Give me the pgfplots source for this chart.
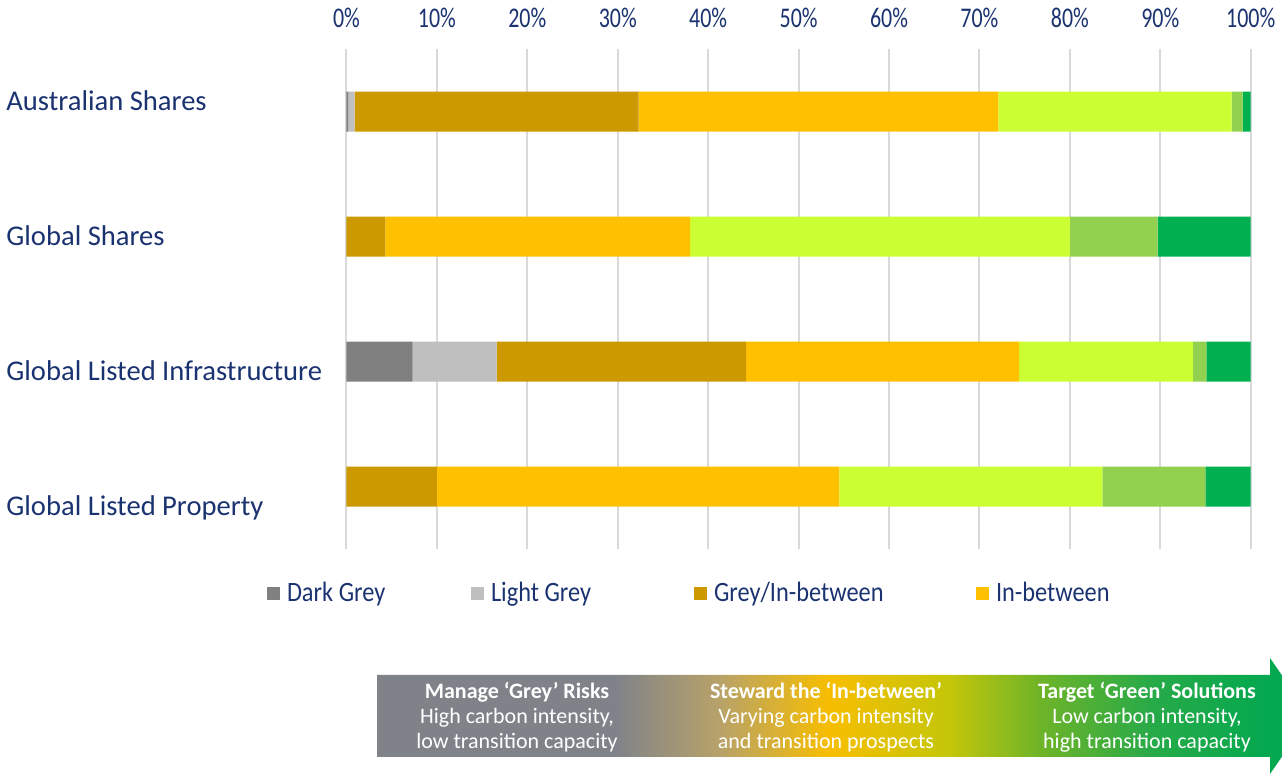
\documentclass[border=0pt]{standalone}
\usepackage{pgfplots}
\pgfplotsset{compat=1.18}
\usepackage{pgfplotstable}
\usepackage{fontspec}
\setmainfont{Carlito}
\newfontfamily\tickfont{Carlito}[FakeStretch=0.77]
\newfontfamily\legfont{Carlito}[FakeStretch=0.87]
\definecolor{navy}{HTML}{1A3370}
\definecolor{cDG}{HTML}{808080}
\definecolor{cLG}{HTML}{BFBFBF}
\definecolor{cGIB}{HTML}{CC9900}
\definecolor{cIB}{HTML}{FFC000}
\definecolor{cLGr}{HTML}{CCFF33}
\definecolor{cMGr}{HTML}{92D050}
\definecolor{cDGr}{HTML}{00B050}
\definecolor{gridc}{HTML}{D9D9D9}
\definecolor{ag1}{RGB}{127,131,137}
\definecolor{ag2}{RGB}{184,162,105}
\definecolor{ag3}{RGB}{247,190,0}
\definecolor{ag4}{RGB}{196,198,10}
\definecolor{ag5}{RGB}{110,180,40}
\definecolor{ag6}{RGB}{40,170,72}
\definecolor{ag7}{RGB}{0,168,80}
\pgfdeclarehorizontalshading{arrowshade}{100bp}{color(0bp)=(ag1); color(25bp)=(ag1); color(37.75bp)=(ag1); color(43.38bp)=(ag2); color(49.28bp)=(ag3); color(55.71bp)=(ag4); color(60.53bp)=(ag5); color(66.42bp)=(ag6); color(73.5bp)=(ag7); color(100bp)=(ag7)}

\pgfplotstableread{
cat dg lg gib ib lgr mgr dgr
0 0.2 0.7 31.4 39.8 25.8 1.2 0.9
1 0 0 4.3 33.7 42.0 9.7 10.3
2 7.3 9.3 27.6 30.2 19.2 1.5 4.9
3 0 0 10.0 44.5 29.1 11.4 5.0
}\datatable

\pgfplotsset{sqleg/.style={legend image code/.code={\path[##1, draw=none] (0pt,-3.25pt) rectangle (6.5pt,3.25pt);}}}

\begin{document}
\begin{tikzpicture}
\path[use as bounding box] (0pt,0pt) rectangle (641pt,-387pt);
\begin{axis}[
  at={(173.25pt,-24.5pt)}, anchor=north west,
  scale only axis, width=452.1pt, height=250pt,
  xbar stacked, bar width=20pt,
  xmin=0, xmax=100, ymin=-0.5, ymax=3.5, y dir=reverse,
  ytick={0,1,2,3},
  yticklabels={Australian Shares, Global Shares, Global Listed Infrastructure, Global Listed Property},
  xtick={0,10,...,100},
  xticklabels={0\%,10\%,20\%,30\%,40\%,50\%,60\%,70\%,80\%,90\%,100\%},
  xticklabel pos=upper,
  axis line style={draw=none},
  tick style={draw=none},
  major tick length=0pt,
  xmajorgrids, grid style={color=gridc, line width=1pt},
  xticklabel style={font=\tickfont\fontsize{14.25}{16}\selectfont, text=navy, anchor=base, inner sep=0pt, yshift=10.85pt},
  yticklabel style={font=\fontsize{14.3}{17}\selectfont, text=navy, anchor=base west, inner sep=0pt, xshift=-170.25pt, yshift={0.75pt-5pt*\ticknum}},
  legend style={at={(axis description cs:-0.0879,-0.089)}, anchor=west, draw=none, fill=none, inner sep=0pt, outer sep=0pt,
    nodes={inner sep=0pt, text=navy, font=\legfont\fontsize{14}{16}\selectfont}, column sep=0pt},
  legend columns=4, legend cell align=left,
]
\addplot[fill=cDG, draw=none, sqleg] table[x=dg, y=cat] {\datatable};
\addplot[fill=cLG, draw=none, sqleg] table[x=lg, y=cat] {\datatable};
\addplot[fill=cGIB, draw=none, sqleg] table[x=gib, y=cat] {\datatable};
\addplot[fill=cIB, draw=none, sqleg] table[x=ib, y=cat] {\datatable};
\addplot[fill=cLGr, draw=none, sqleg] table[x=lgr, y=cat] {\datatable};
\addplot[fill=cMGr, draw=none, sqleg] table[x=mgr, y=cat] {\datatable};
\addplot[fill=cDGr, draw=none, sqleg] table[x=dgr, y=cat] {\datatable};
\legend{\makebox[95.5pt][l]{\hspace*{3.5pt}Dark Grey}, \makebox[105pt][l]{\hspace*{3.5pt}Light Grey}, \makebox[134.5pt][l]{\hspace*{3.5pt}Grey/In-between}, \hspace*{3.5pt}In-between}
\end{axis}
\begin{scope}[x=0.5pt,y=-0.5pt]
\clip (0,0) rectangle (1282,774);
\shade[shading=arrowshade] (377,675) -- (1270,675) -- (1270,658) -- (1310,716) -- (1270,774) -- (1270,757) -- (377,757) -- cycle;
\node[text=white, align=center, font=\fontsize{11}{12.5}\selectfont] at (517,717) {\textbf{Manage ‘Grey’ Risks}\\High carbon intensity,\\low transition capacity};
\node[text=white, align=center, font=\fontsize{11}{12.5}\selectfont] at (826,717) {\textbf{Steward the ‘In-between’}\\Varying carbon intensity\\and transition prospects};
\node[text=white, align=center, font=\fontsize{11}{12.5}\selectfont] at (1147,717) {\textbf{Target ‘Green’ Solutions}\\Low carbon intensity,\\high transition capacity};
\end{scope}
\end{tikzpicture}
\end{document}
